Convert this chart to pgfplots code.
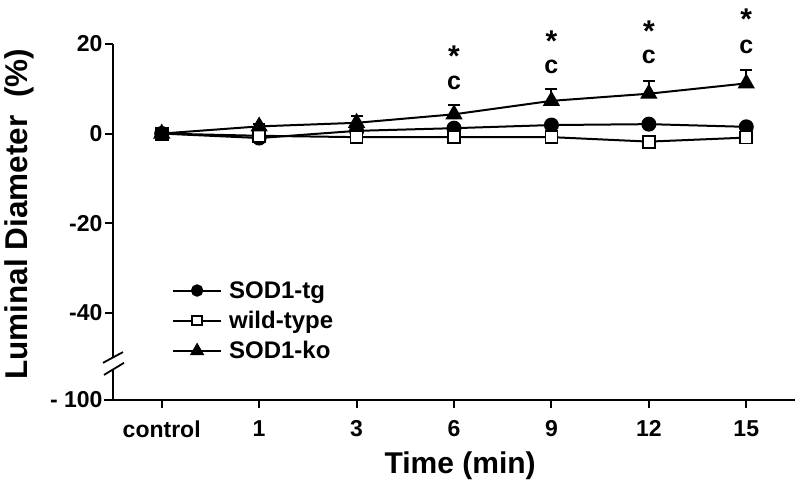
\documentclass[border=0pt]{standalone}
\usepackage{fontspec}
\setmainfont{Liberation Sans}
\usepackage{pgfplots}
\pgfplotsset{compat=1.18}
\begin{document}
\begin{tikzpicture}
\path[use as bounding box] (-113pt,-89pt) rectangle (687pt,400pt);
\begin{axis}[
  at={(0pt,0pt)}, anchor=south west,
  scale only axis, width=682pt, height=356pt,
  xmin=-0.5, xmax=6.5, ymin=-59.5, ymax=20,
  axis x line=bottom, axis y line=left,
  axis line style={draw=none,-},
  clip=false,
  xtick={0,1,2,3,4,5,6},
  xticklabels={control,1,3,6,9,12,15},
  ytick={-59.5,-40,-20,0,20},
  yticklabels={- 100,-40,-20,0,20},
  tick align=outside,
  major tick length=8pt,
  tick style={line width=2pt, black},
  /pgf/number format/assume math mode=true,
  ticklabel style={font=\fontsize{23}{26}\selectfont\bfseries},
  yticklabel style={xshift=1pt},
  xticklabel style={yshift=-9pt},
  xlabel={Time (min)},
  ylabel={Luminal Diameter\ \ (\%)},
  xlabel style={font=\fontsize{30}{34}\selectfont\bfseries, at={(axis description cs:0.509,-0.186)}, anchor=center},
  ylabel style={font=\fontsize{31.5}{34}\selectfont\bfseries, at={(axis description cs:-0.137,0.522)}, anchor=center},
  legend style={draw=none, fill=none, at={(0.082,0.345)}, anchor=north west,
    font=\fontsize{24}{26}\selectfont\bfseries, row sep=7.5pt,
    /tikz/every odd column/.append style={column sep=5pt}},
  legend cell align=left,
  legend image code/.code={\draw[mark repeat=2,mark phase=2,#1,every mark/.append style={scale=0.8}] plot coordinates {(0pt,0pt) (24pt,0pt) (48pt,0pt)};},
]
% axis lines with break
\draw[line width=2.2pt] ([xshift=-9pt]rel axis cs:0,0) -- (rel axis cs:1,0);
\draw[line width=2.2pt] (axis cs:-0.5,20) -- (axis cs:-0.5,-50.0);
\draw[line width=2.2pt] (axis cs:-0.5,-52.6) -- (axis cs:-0.5,-59.5);
\draw[line width=1.8pt] ([xshift=-10pt]axis cs:-0.5,-51.2) -- ([xshift=10pt]axis cs:-0.5,-48.8);
\draw[line width=1.8pt] ([xshift=-9pt]axis cs:-0.5,-53.9) -- ([xshift=11pt]axis cs:-0.5,-51.2);

\addplot[black, line width=2pt, mark=*, mark size=6.5pt, mark options={fill=black}]
  coordinates {(0,0) (1,-1.0) (2,0.6) (3,1.2) (4,1.9) (5,2.1) (6,1.5)};
\addlegendentry{SOD1-tg}
\addplot[black, line width=2pt, mark=square*, mark size=6pt, mark options={fill=white, line width=1.8pt}]
  coordinates {(0,0) (1,-0.5) (2,-0.8) (3,-0.8) (4,-0.8) (5,-1.8) (6,-0.9)};
\addlegendentry{wild-type}
\addplot[black, line width=2pt, mark=triangle*, mark size=8pt, mark options={fill=black},
  error bars/.cd, y dir=plus, y explicit, error bar style={line width=2pt},
  error mark options={rotate=90, mark size=6pt, line width=2.4pt}]
  coordinates {(0,0) +- (0,0) (1,1.6) +- (0,0.6) (2,2.4) +- (0,1.5) (3,4.3) +- (0,2.1)
               (4,7.3) +- (0,2.6) (5,8.9) +- (0,2.8) (6,11.2) +- (0,3.0)};
\addlegendentry{SOD1-ko}
\addplot[only marks, mark=square*, mark size=6.5pt, mark options={fill=black}, forget plot]
  coordinates {(0,0)};

% significance annotations
\node[inner sep=0pt, font=\fontsize{30}{32}\selectfont\bfseries, yshift=-7pt] at (axis cs:3,18.9) {*};
\node[inner sep=0pt, font=\fontsize{25}{27}\selectfont\bfseries] at (axis cs:3,11.4) {c};
\node[inner sep=0pt, font=\fontsize{30}{32}\selectfont\bfseries, yshift=-7pt] at (axis cs:4,22.2) {*};
\node[inner sep=0pt, font=\fontsize{25}{27}\selectfont\bfseries] at (axis cs:4,14.8) {c};
\node[inner sep=0pt, font=\fontsize{30}{32}\selectfont\bfseries, yshift=-7pt] at (axis cs:5,24.5) {*};
\node[inner sep=0pt, font=\fontsize{25}{27}\selectfont\bfseries] at (axis cs:5,17.1) {c};
\node[inner sep=0pt, font=\fontsize{30}{32}\selectfont\bfseries, yshift=-7pt] at (axis cs:6,27.2) {*};
\node[inner sep=0pt, font=\fontsize{25}{27}\selectfont\bfseries] at (axis cs:6,19.4) {c};
\end{axis}
\end{tikzpicture}
\end{document}
